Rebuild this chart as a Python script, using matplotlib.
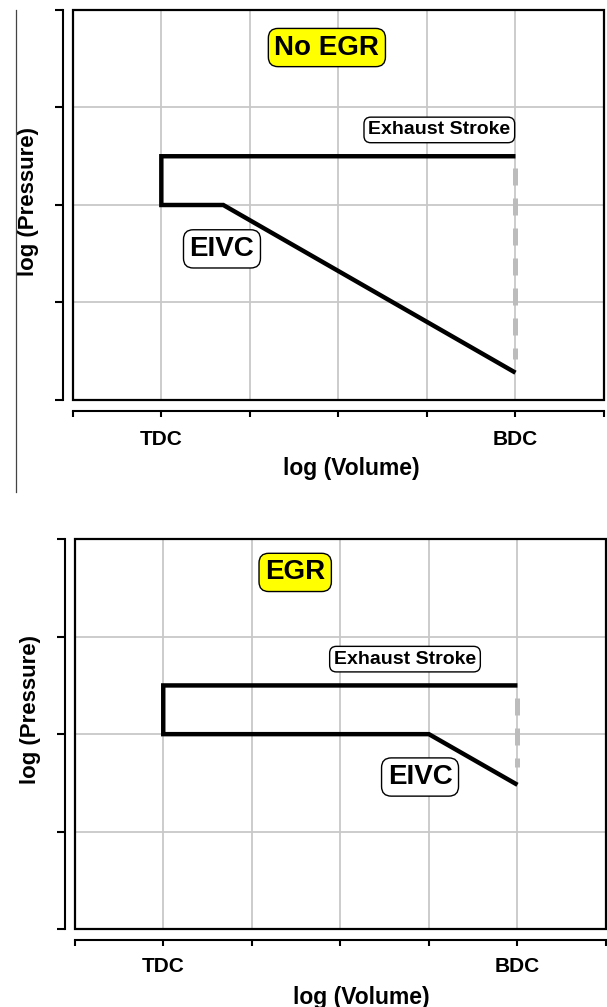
import matplotlib
matplotlib.use("Agg")
import matplotlib.pyplot as plt
from matplotlib.patches import Rectangle
from matplotlib.lines import Line2D

plt.rcParams['font.family'] = ['Liberation Sans', 'DejaVu Sans']
plt.rcParams['font.weight'] = 'bold'

# ---- data ----
x_ticks = [0, 1, 2, 3, 4, 5, 6]
x_tick_labels = ['', 'TDC', '', '', '', 'BDC', '']
y_ticks = [0, 1, 2, 3, 4]

noegr_vol = [5, 1, 1, 1.7, 5]
noegr_pres = [2.5, 2.5, 2.0, 2.0, 0.28]
noegr_bdc_vol = [5, 5]
noegr_bdc_pres = [2.38, 0.42]

egr_vol = [5, 1, 1, 4.0, 5]
egr_pres = [2.5, 2.5, 2.0, 2.0, 1.48]
egr_bdc_vol = [5, 5]
egr_bdc_pres = [2.37, 1.66]

W, H = 607, 1007
fig = plt.figure(figsize=(W / 100, H / 100), dpi=100)

def px_rect(l, r, t, b):
    return [l / W, 1 - b / H, (r - l) / W, (b - t) / H]

ax1 = fig.add_axes(px_rect(72.8, 604, 10, 400))
ax2 = fig.add_axes(px_rect(74.7, 606, 539.3, 929))

def style(ax, xlab_x, ylab_y, tick_pad):
    ax.set_xlim(0, 6)
    ax.set_ylim(0, 4)
    ax.set_xticks(x_ticks)
    ax.set_xticklabels(x_tick_labels)
    ax.set_yticks(y_ticks)
    ax.set_yticklabels([])
    ax.grid(True, color='#c8c8c8', lw=1.3)
    ax.set_axisbelow(True)
    for s in ['top', 'right']:
        ax.spines[s].set_visible(False)
    ax.spines['left'].set_position(('outward', 7))
    ax.spines['bottom'].set_position(('outward', 8))
    ax.spines['left'].set_linewidth(1.5)
    ax.spines['bottom'].set_linewidth(1.5)
    ax.tick_params(axis='y', length=5.8, width=1.5, direction='out')
    ax.tick_params(axis='x', length=4.3, width=1.5, direction='out', pad=tick_pad,
                   labelsize=15)
    for t in ax.get_xticklabels():
        t.set_fontweight('bold')
    ax.add_patch(Rectangle((0, 0), 1, 1, transform=ax.transAxes, fill=False,
                           lw=1.6, ec='black', clip_on=False, zorder=5))
    ax.set_xlabel('log (Volume)', fontsize=16.5, fontweight='bold', va='center')
    ax.xaxis.set_label_coords(xlab_x, -0.175)
    ax.set_ylabel('log (Pressure)', fontsize=16, fontweight='bold', va='center')
    ax.yaxis.set_label_coords(-0.083, ylab_y)

style(ax1, 0.525, 0.508, 9.5)
style(ax2, 0.54, 0.562, 8)

line_kw = dict(color='black', lw=3.2, solid_joinstyle='miter', solid_capstyle='butt', zorder=4)
dash_kw = dict(color='#bcbcbc', lw=3.6, dashes=(3.4, 2.6), dash_capstyle='butt', zorder=3)

ax1.plot(noegr_bdc_vol, noegr_bdc_pres, **dash_kw)
ax1.plot(noegr_vol, noegr_pres, **line_kw)
ax2.plot(egr_bdc_vol, egr_bdc_pres, **dash_kw)
ax2.plot(egr_vol, egr_pres, **line_kw)

def label(ax, x, y, s, size, fc, pad):
    ax.text(x, y, s, fontsize=size, fontweight='bold', ha='center', va='center',
            zorder=6,
            bbox=dict(boxstyle=f'round,pad={pad},rounding_size=0.35', fc=fc,
                      ec='black', lw=1.0))

label(ax1, 2.87, 3.615, 'No EGR', 20, '#ffff00', 0.22)
label(ax1, 4.14, 2.77, 'Exhaust Stroke', 14, 'white', 0.22)
label(ax1, 1.685, 1.55, 'EIVC', 20, 'white', 0.22)

label(ax2, 2.49, 3.66, 'EGR', 20, '#ffff00', 0.22)
label(ax2, 3.73, 2.77, 'Exhaust Stroke', 14, 'white', 0.22)
label(ax2, 3.9, 1.56, 'EIVC', 20, 'white', 0.22)

# thin vertical rule at left of upper panel
fig.add_artist(Line2D([15.7 / W, 15.7 / W], [1 - 10 / H, 1 - 492 / H],
                      color='#444444', lw=0.9, transform=fig.transFigure))

fig.savefig('out.png', dpi=100)
